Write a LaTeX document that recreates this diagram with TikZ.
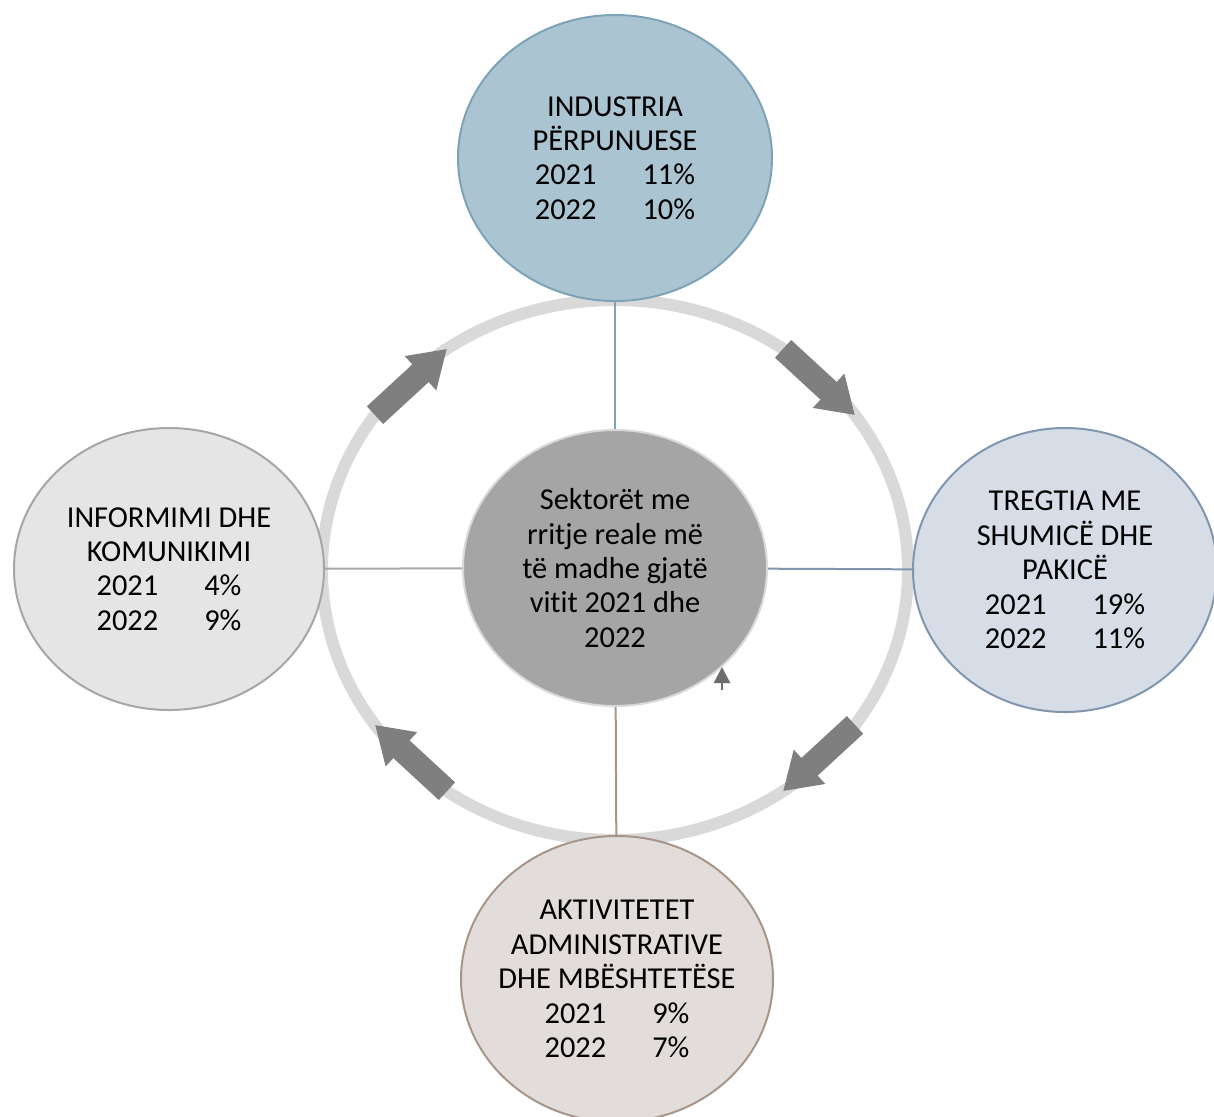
\documentclass[tikz,border=0pt]{standalone}
\usepackage{fontspec}
\setmainfont{Carlito}[Ligatures=NoCommon]
\usetikzlibrary{shapes.geometric,arrows.meta}
\definecolor{indfill}{HTML}{ABC4D2}
\definecolor{inddraw}{HTML}{7EA3B8}
\definecolor{trefill}{HTML}{D6DDE6}
\definecolor{tredraw}{HTML}{8096AE}
\definecolor{inffill}{HTML}{E5E5E5}
\definecolor{infdraw}{HTML}{A6A6A6}
\definecolor{aktfill}{HTML}{E2DDDA}
\definecolor{aktdraw}{HTML}{A89589}
\definecolor{midfill}{HTML}{A5A5A5}
\definecolor{ringgray}{HTML}{D9D9D9}
\definecolor{arrgray}{HTML}{7F7F7F}
\tikzset{
  sector/.style={ellipse,inner sep=0pt,line width=1pt,minimum width=155pt,minimum height=143pt},
  txt/.style={align=center,font=\fontsize{15.2}{17.2}\selectfont},
  blockarrow/.style={arrgray,line width=12pt,-{Triangle[length=18pt,width=22pt]}}
}
\newcommand{\yr}[2]{#1\hspace{23pt}#2}

\begin{document}
\begin{tikzpicture}[x=0.5pt,y=-0.5pt]
\useasboundingbox (0,0) rectangle (1214,1116);
\draw [ringgray,line width=6pt] (615,570) ellipse [x radius=293,y radius=270];
% block arrows on the ring, clockwise
\foreach \a in {145,55,-35,-125}
  \draw [blockarrow] ({615+293*cos(\a)},{570-270*sin(\a)}) -- ({615+293*cos(\a-20)},{570-270*sin(\a-20)});
  \node (mid) at (615,568) [sector,fill=midfill,draw=ringgray,minimum width=152pt,minimum height=138pt] {};
  \node (ind) at (615,158) [sector,fill=indfill,draw=inddraw,minimum width=157pt] {};
  \node (tre) at (1065,570) [sector,fill=trefill,draw=tredraw,minimum width=152pt,minimum height=142pt] {};
  \node (inf) at (169,569) [sector,fill=inffill,draw=infdraw,minimum width=155pt,minimum height=141pt] {};
  \node (akt) at (617,979) [sector,fill=aktfill,draw=aktdraw,minimum width=156pt] {};
  \draw [inddraw,line width=1pt] (ind) -- (mid);
  \draw [tredraw,line width=1pt] (mid) -- (tre);
  \draw [infdraw,line width=1pt] (inf) -- (mid);
  \draw [aktdraw,line width=1pt] (mid) -- (akt);
  \coordinate (tipa) at (722,690);
  \coordinate (tipb) at (722,667);
  \draw [arrgray!85!black,line width=1.2pt,-{Triangle[length=8pt,width=8pt]}] (tipa) -- (tipb);
  \node (midtxt) at (mid) [txt] {Sektorët me\\rritje reale më\\të madhe gjatë\\vitit 2021 dhe\\2022};
  \node (indtxt) at (ind) [txt] {INDUSTRIA\\PËRPUNUESE\\\yr{2021}{11\%}\\\yr{2022}{10\%}};
  \node (tretxt) at (tre) [txt] {TREGTIA ME\\SHUMICË DHE\\PAKICË\\\yr{2021}{19\%}\\\yr{2022}{11\%}};
  \node (inftxt) at (inf) [txt] {INFORMIMI DHE\\KOMUNIKIMI\\\yr{2021}{4\%}\\\yr{2022}{9\%}};
  \node (akttxt) at (akt) [txt] {AKTIVITETET\\ADMINISTRATIVE\\DHE MBËSHTETËSE\\\yr{2021}{9\%}\\\yr{2022}{7\%}};
\end{tikzpicture}
\end{document}
